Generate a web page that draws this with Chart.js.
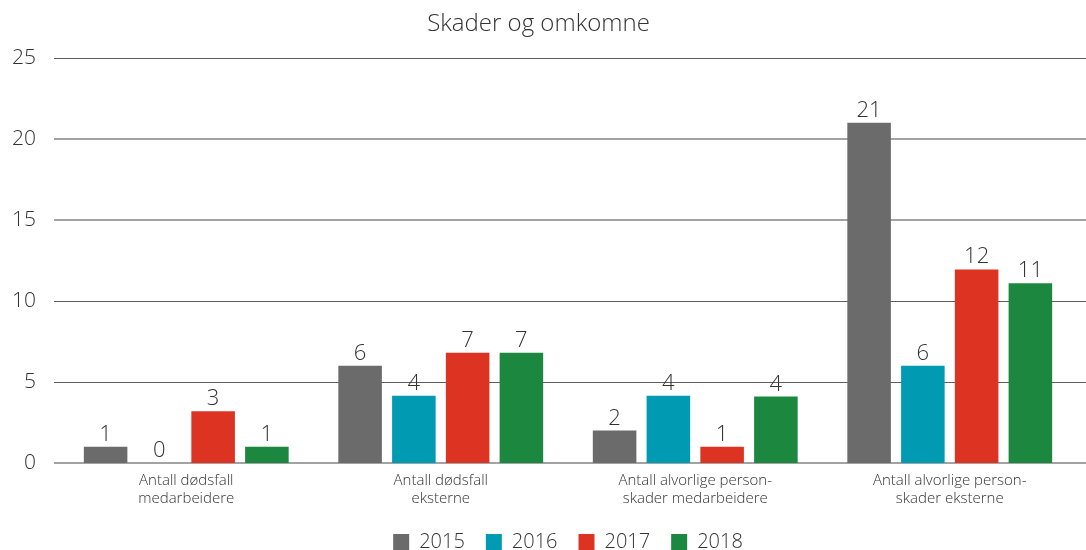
<!DOCTYPE html>
<html>
<head>
<meta charset="utf-8">
<script src="https://cdn.jsdelivr.net/npm/chart.js@4/dist/chart.umd.min.js"></script>
<style>
  html, body { margin: 0; padding: 0; background: #ffffff; }
  #wrap { width: 1086px; height: 550px; position: relative; }
</style>
</head>
<body>
<div id="wrap"><canvas id="c" width="1086" height="550"></canvas></div>
<script>
const chartTitle = "Skader og omkomne";
const categories = [
  ["Antall dødsfall", "medarbeidere"],
  ["Antall dødsfall", "eksterne"],
  ["Antall alvorlige person-", "skader medarbeidere"],
  ["Antall alvorlige person-", "skader eksterne"]
];
const seriesNames = ["2015", "2016", "2017", "2018"];
const values2015 = [1, 6, 2, 21];
const values2016 = [0, 4.15, 4.15, 6];
const values2017 = [3.2, 6.8, 1, 11.95];
const values2018 = [1, 6.8, 4.1, 11.1];
const yTicks = [0, 5, 10, 15, 20, 25];
const colors = ["#6b6b6b", "#009bb3", "#dc3322", "#1c873e"];

const FONT = "'Open Sans', 'Segoe UI', sans-serif";
const TXT = "#333333";

const gridPlugin = {
  id: "gridExt",
  beforeDatasetsDraw(chart) {
    const ctx = chart.ctx;
    const ys = chart.scales.y;
    ctx.save();
    yTicks.forEach(v => {
      const py = ys.getPixelForValue(v);
      const heavy = (v === 0 || v === 15 || v === 20);
      ctx.strokeStyle = heavy ? "#a3a3a3" : "#5e5e5e";
      ctx.lineWidth = heavy ? 2 : 1;
      const yy = heavy ? Math.round(py) : Math.round(py) + 0.5;
      ctx.beginPath();
      ctx.moveTo(54, yy);
      ctx.lineTo(chart.width, yy);
      ctx.stroke();
    });
    ctx.restore();
  }
};

const labelPlugin = {
  id: "valLabels",
  afterDatasetsDraw(chart) {
    const ctx = chart.ctx;
    ctx.save();
    ctx.font = "300 22px " + FONT;
    ctx.fillStyle = TXT;
    ctx.textAlign = "center";
    ctx.textBaseline = "alphabetic";
    chart.data.datasets.forEach((ds, di) => {
      const meta = chart.getDatasetMeta(di);
      meta.data.forEach((bar, i) => {
        ctx.fillText(String(Math.round(ds.data[i])), bar.x, bar.y - 6);
      });
    });
    ctx.restore();
  }
};

const allSeries = [values2015, values2016, values2017, values2018];

new Chart(document.getElementById("c"), {
  type: "bar",
  data: {
    labels: categories,
    datasets: seriesNames.map((n, i) => ({
      label: n,
      data: allSeries[i],
      backgroundColor: colors[i],
      borderWidth: 0,
      categoryPercentage: 0.845,
      barPercentage: 0.81
    }))
  },
  options: {
    responsive: false,
    animation: false,
    devicePixelRatio: 1,
    layout: { padding: { left: 0, right: 9, top: 0, bottom: -12 } },
    plugins: {
      title: {
        display: true,
        text: chartTitle,
        color: TXT,
        font: { family: FONT, size: 24, weight: 300 },
        padding: { top: 9.5, bottom: 19.7 }
      },
      legend: {
        position: "bottom",
        fullSize: false,
        labels: {
          color: TXT,
          font: { family: FONT, size: 20, weight: 300 },
          boxWidth: 16,
          boxHeight: 16,
          padding: 21
        }
      },
      tooltip: { enabled: false }
    },
    scales: {
      x: {
        afterFit(scale) { scale.height = 48; },
        grid: { display: false, drawTicks: false },
        border: { display: false },
        ticks: {
          color: TXT,
          font: { family: FONT, size: 15, weight: 300, lineHeight: 1.2 },
          padding: 9,
          maxRotation: 0,
          autoSkip: false
        }
      },
      y: {
        min: 0,
        max: 25,
        afterFit(scale) { scale.width = 59; },
        afterBuildTicks(scale) { scale.ticks = yTicks.map(v => ({ value: v })); },
        grid: { display: false, drawTicks: false },
        border: { display: false },
        ticks: {
          color: TXT,
          font: { family: FONT, size: 21, weight: 300 },
          padding: 23
        }
      }
    }
  },
  plugins: [gridPlugin, labelPlugin]
});
</script>
</body>
</html>
